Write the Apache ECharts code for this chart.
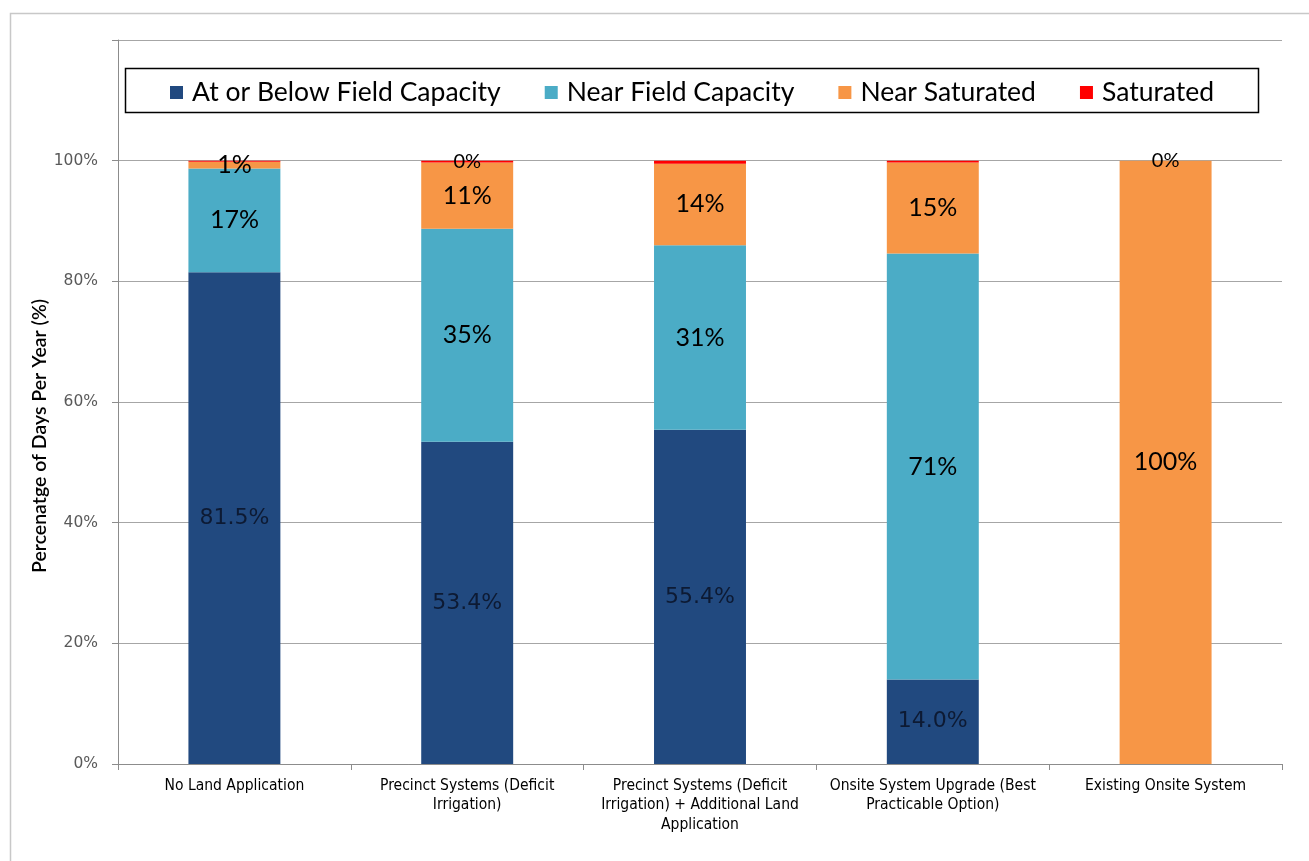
<!DOCTYPE html>
<html>
<head>
<meta charset="utf-8">
<script src="https://cdn.jsdelivr.net/npm/echarts@6/dist/echarts.min.js"></script>
<style>
html,body{margin:0;padding:0;background:#fff;}
#chart{width:1309px;height:861px;}
</style>
</head>
<body>
<div id="chart"></div>
<script>
const categories = [
  'No Land Application',
  'Precinct Systems (Deficit\nIrrigation)',
  'Precinct Systems (Deficit\nIrrigation) + Additional Land\nApplication',
  'Onsite System Upgrade (Best\nPracticable Option)',
  'Existing Onsite System'
];
const atOrBelow = [81.5, 53.4, 55.4, 14.0, 0];
const nearFieldCapacity = [17.2, 35.3, 30.6, 70.6, 0];
const nearSaturated = [1.1, 11.0, 13.5, 15.1, 100];
const saturated = [0.2, 0.3, 0.5, 0.3, 0];
const saturatedLabelShown = [false, true, false, false, true];
const yTicks = [0, 20, 40, 60, 80, 100];

const seriesNames = ['At or Below Field Capacity', 'Near Field Capacity', 'Near Saturated', 'Saturated'];
const colors = ['#21497f', '#4bacc6', '#f79646', '#ff0000'];

const chart = echarts.init(document.getElementById('chart'));
const calib = 'Lato, "Open Sans", sans-serif';

function mkSeries(name, data, color, fmt, labelStyle) {
  return {
    name: name, type: 'bar', stack: 'total', data: data, barWidth: '39.5%',
    itemStyle: { color: color },
    label: Object.assign({ show: true, position: 'inside', formatter: fmt }, labelStyle),
    emphasis: { disabled: true }
  };
}

chart.setOption({
  animation: false,
  color: colors,
  grid: { left: 118, right: 27, top: 40, bottom: 97 },
  graphic: [
    { type: 'rect', shape: { x: 10.5, y: 13.5, width: 1320, height: 900 },
      style: { fill: 'none', stroke: '#c8c8c8', lineWidth: 1.5 }, silent: true },
    { type: 'rect', shape: { x: 125.5, y: 68.5, width: 1133, height: 44 },
      style: { fill: '#fff', stroke: '#000', lineWidth: 1.5 }, z: 5, silent: true },
    { type: 'text', x: 40, y: 436, rotation: Math.PI / 2,
      style: { text: 'Percenatge of Days Per Year (%)', font: '600 19.5px ' + calib,
        fill: '#000', align: 'center', verticalAlign: 'middle' }, silent: true }
  ],
  legend: {
    top: 74, left: 165, z: 10,
    itemWidth: 13, itemHeight: 13, itemGap: 44,
    icon: 'rect',
    textStyle: { fontFamily: calib, fontSize: 26.5, color: '#000', padding: [0, 0, 0, 4] },
    data: seriesNames
  },
  xAxis: {
    type: 'category', data: categories,
    axisLine: { lineStyle: { color: '#8c8c8c', width: 1 } },
    axisTick: { show: true, length: 6, lineStyle: { color: '#8c8c8c' } },
    axisLabel: { interval: 0, margin: 12, fontFamily: '"DejaVu Sans Condensed", "DejaVu Sans", sans-serif',
      fontSize: 15.5, color: '#000', lineHeight: 19.5 }
  },
  yAxis: {
    type: 'value', min: 0, max: 120, interval: 20,
    axisLine: { show: true, lineStyle: { color: '#8c8c8c' } },
    axisTick: { show: true, length: 6, lineStyle: { color: '#8c8c8c' } },
    splitLine: { lineStyle: { color: '#a6a6a6', width: 1 } },
    axisLabel: {
      margin: 20, fontFamily: '"DejaVu Sans", sans-serif', fontSize: 15.5, color: '#595959',
      formatter: function (v) { return yTicks.indexOf(v) >= 0 ? v + '%' : ''; }
    }
  },
  series: [
    mkSeries(seriesNames[0], atOrBelow, colors[0],
      function (p) { return p.value > 0 ? p.value.toFixed(1) + '%' : ''; },
      { fontFamily: '"DejaVu Sans", sans-serif', fontSize: 22, color: '#0d1a33' }),
    mkSeries(seriesNames[1], nearFieldCapacity, colors[1],
      function (p) { return p.value > 0 ? Math.round(p.value) + '%' : ''; },
      { fontFamily: calib, fontSize: 25, color: '#000' }),
    mkSeries(seriesNames[2], nearSaturated, colors[2],
      function (p) { return p.value > 0 ? Math.round(p.value) + '%' : ''; },
      { fontFamily: calib, fontSize: 25, color: '#000' }),
    mkSeries(seriesNames[3], saturated, colors[3],
      function (p) { return saturatedLabelShown[p.dataIndex] ? Math.round(p.value) + '%' : ''; },
      { fontFamily: calib, fontSize: 20, color: '#000' })
  ]
});
</script>
</body>
</html>
